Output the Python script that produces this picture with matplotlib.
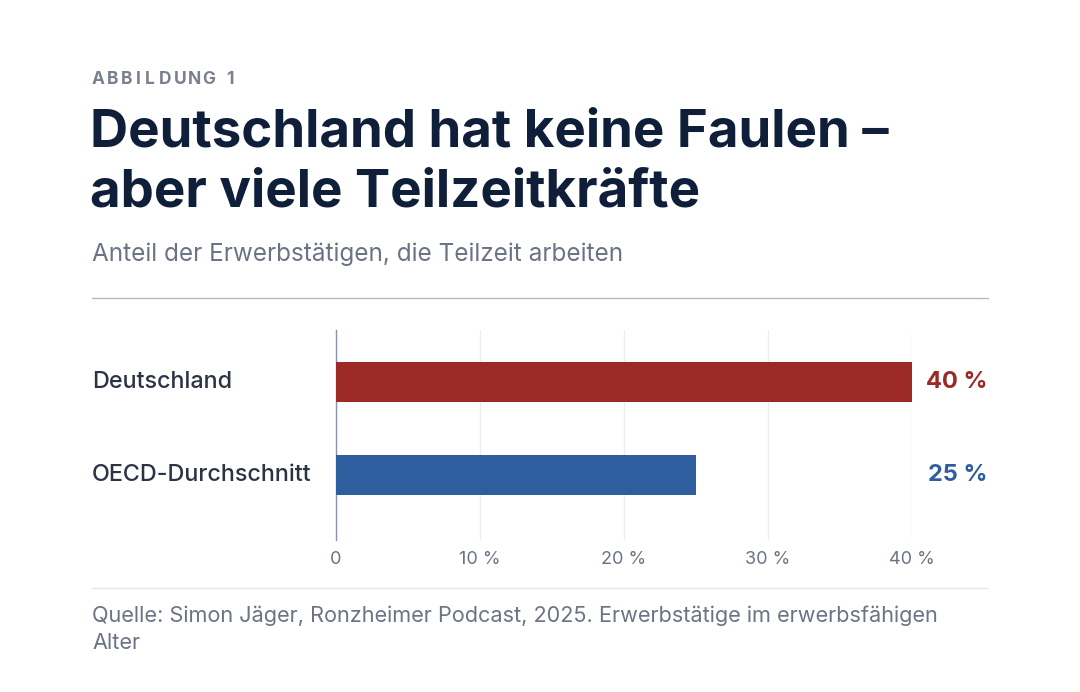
import matplotlib.pyplot as plt

categories = ["Deutschland", "OECD-Durchschnitt"]
values = [40, 25]
colors = ["#9b2a27", "#2e5e9e"]
ticks = [0, 10, 20, 30, 40]
tick_labels = ["0", "10 %", "20 %", "30 %", "40 %"]

plt.rcParams['font.family'] = ['Inter', 'DejaVu Sans']
fig = plt.figure(figsize=(10.8, 6.92), dpi=100)
W, H = 1080, 692
def fx(x): return x / W
def fy(y): return 1 - y / H

navy = "#0f1f3a"
gray = "#6b7385"

# letter-spaced kicker
x = 92
for ch in "ABBILDUNG 1":
    fig.text(fx(x), fy(80), ch, fontsize=12.5, fontweight="bold", color="#7a8090", va="center")
    x += 14.5 if ch not in "I1 " else 9

fig.text(fx(90), fy(133), "Deutschland hat keine Faulen –", fontsize=38, fontweight="bold", color=navy, va="center")
fig.text(fx(90), fy(193), "aber viele Teilzeitkräfte", fontsize=38, fontweight="bold", color=navy, va="center")
fig.text(fx(92), fy(254), "Anteil der Erwerbstätigen, die Teilzeit arbeiten", fontsize=17.5, color=gray, va="center")
fig.add_artist(plt.Line2D([fx(92), fx(988)], [fy(298), fy(298)], color="#b4b9c8", lw=1))
fig.add_artist(plt.Line2D([fx(92), fx(988)], [fy(588), fy(588)], color="#e6e8ee", lw=1))
fig.text(fx(92), fy(616), "Quelle: Simon Jäger, Ronzheimer Podcast, 2025. Erwerbstätige im erwerbsfähigen", fontsize=15.6, color=gray, va="center")
fig.text(fx(92), fy(643), "Alter", fontsize=15.6, color=gray, va="center")

ax = fig.add_axes([fx(336), fy(540), fx(912) - fx(336), (540 - 330) / H])
y = list(range(len(categories)))
ax.barh(y, values, height=0.43, color=colors, zorder=3)
ax.set_xlim(0, 40)
ax.set_ylim(1.699, -0.559)
ax.set_xticks(ticks)
ax.set_xticklabels(tick_labels, fontsize=13, color=gray)
ax.tick_params(axis="x", length=0, pad=8)
ax.set_yticks([])
ax.grid(axis="x", color="#eceef3", lw=1, zorder=0)
for s in ["top", "right", "bottom"]:
    ax.spines[s].set_visible(False)
ax.spines["left"].set_color("#8a93ad")
ax.spines["left"].set_linewidth(1)

for i, (c, v, col) in enumerate(zip(categories, values, colors)):
    fig.text(fx(92), fy(382 + 93 * i), c, fontsize=16.8, color="#2b3345", va="center", fontweight="medium")
    fig.text(fx(987), fy(382 + 93 * i), f"{v} %", fontsize=17, fontweight="bold", color=col, va="center", ha="right")

fig.savefig("out.png", dpi=100)
